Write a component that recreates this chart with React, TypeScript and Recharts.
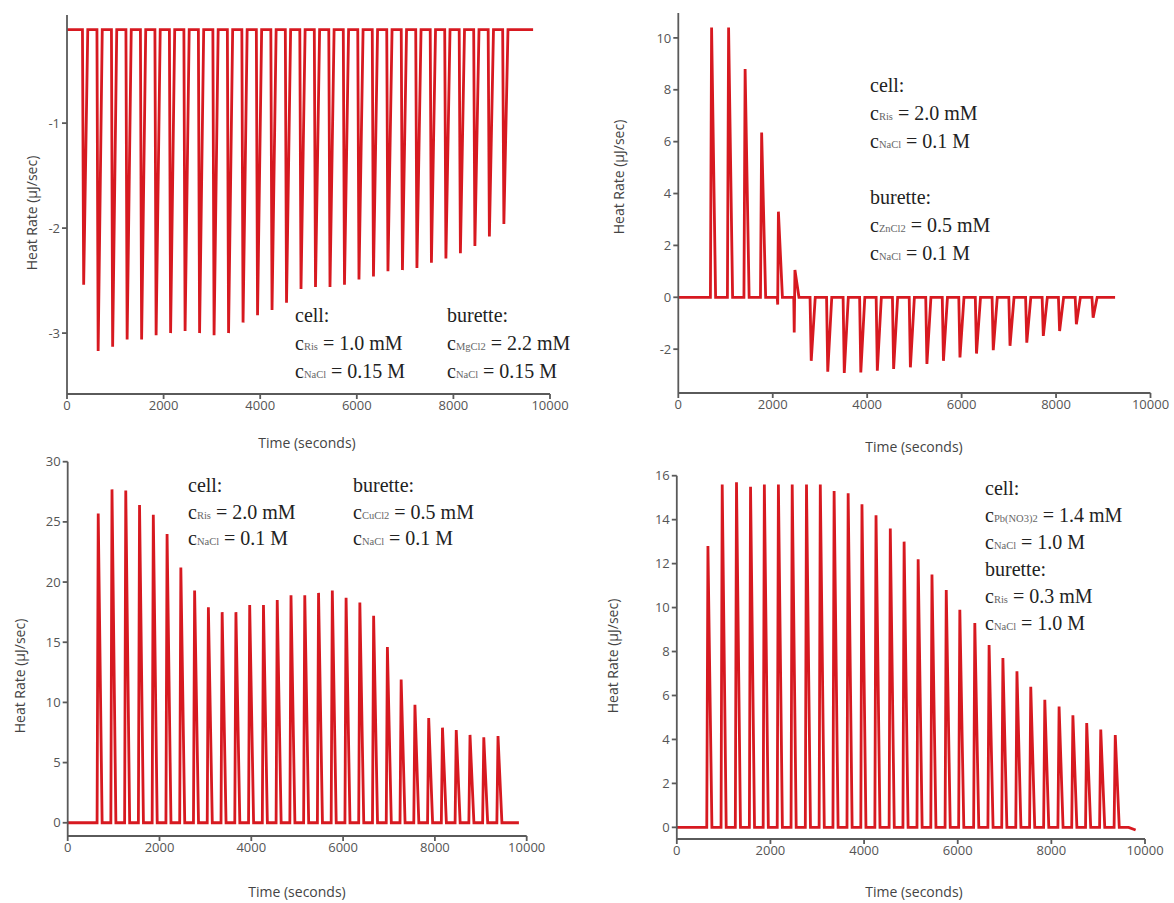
import React from 'react';
import { LineChart, Line, XAxis, YAxis } from 'recharts';

// time axis shared by all four thermograms
const timeTicks = [0, 2000, 4000, 6000, 8000, 10000];

// top-left: Ris in cell, MgCl2 in burette (exothermic, negative peaks)
const mgTimes = [320, 620, 920, 1220, 1520, 1820, 2120, 2420, 2720, 3020, 3320, 3620, 3920, 4220, 4520, 4820, 5120, 5420, 5720, 6020, 6320, 6620, 6920, 7220, 7520, 7820, 8120, 8420, 8720, 9020];
const mgPeaks = [-2.54, -3.17, -3.13, -3.06, -3.06, -3.02, -3.0, -2.98, -3.0, -3.02, -3.0, -2.9, -2.83, -2.78, -2.71, -2.58, -2.56, -2.56, -2.54, -2.49, -2.46, -2.41, -2.4, -2.38, -2.33, -2.29, -2.24, -2.17, -2.08, -1.96];
const mgTicks = [-1, -2, -3];

// top-right: Ris in cell, ZnCl2 in burette
const znTimes = [680, 1040, 1390, 1740, 2095, 2445, 2790, 3140, 3490, 3840, 4190, 4535, 4890, 5240, 5590, 5940, 6290, 6645, 7000, 7355, 7705, 8050, 8405, 8760];
const znPeaks = [10.4, 10.4, 8.8, 6.35, 3.3, 1.05, -2.45, -2.87, -2.92, -2.9, -2.83, -2.76, -2.7, -2.57, -2.45, -2.32, -2.17, -2.04, -1.87, -1.75, -1.49, -1.3, -1.04, -0.79];
const znDips = [0, 0, 0, 0, -0.28, -1.36, 0, 0, 0, 0, 0, 0, 0, 0, 0, 0, 0, 0, 0, 0, 0, 0, 0, 0];
const znTicks = [-2, 0, 2, 4, 6, 8, 10];

// bottom-left: Ris in cell, CuCl2 in burette
const cuTimes = [640, 940, 1240, 1540, 1840, 2140, 2440, 2740, 3040, 3340, 3640, 3940, 4240, 4540, 4840, 5140, 5440, 5740, 6040, 6340, 6640, 6940, 7240, 7540, 7840, 8140, 8440, 8740, 9040, 9350];
const cuPeaks = [25.7, 27.7, 27.6, 26.4, 25.6, 24.0, 21.2, 19.3, 17.9, 17.5, 17.5, 18.1, 18.1, 18.5, 18.9, 18.9, 19.1, 19.3, 18.7, 18.3, 17.2, 14.6, 11.9, 9.8, 8.7, 7.9, 7.7, 7.3, 7.1, 7.2];
const cuTicks = [0, 5, 10, 15, 20, 25, 30];

// bottom-right: Pb(NO3)2 in cell, Ris in burette
const pbTimes = [640, 945, 1250, 1550, 1845, 2145, 2440, 2745, 3040, 3335, 3635, 3930, 4230, 4535, 4830, 5130, 5425, 5730, 6020, 6340, 6645, 6940, 7240, 7535, 7835, 8140, 8435, 8730, 9030, 9340];
const pbPeaks = [12.8, 15.6, 15.7, 15.5, 15.6, 15.6, 15.6, 15.6, 15.6, 15.3, 15.2, 14.7, 14.2, 13.6, 13.0, 12.2, 11.5, 10.8, 9.9, 9.3, 8.3, 7.7, 7.1, 6.4, 5.8, 5.5, 5.1, 4.75, 4.45, 4.2];
const pbTicks = [0, 2, 4, 6, 8, 10, 12, 14, 16];

// annotation lines: [heading] or [sub, rest]
const mgCell = ['cell:', ['Ris', ' = 1.0 mM'], ['NaCl', ' = 0.15 M']];
const mgBurette = ['burette:', ['MgCl2', ' = 2.2 mM'], ['NaCl', ' = 0.15 M']];
const znNotes = ['cell:', ['Ris', ' = 2.0 mM'], ['NaCl', ' = 0.1 M'], '', 'burette:', ['ZnCl2', ' = 0.5 mM'], ['NaCl', ' = 0.1 M']];
const cuCell = ['cell:', ['Ris', ' = 2.0 mM'], ['NaCl', ' = 0.1 M']];
const cuBurette = ['burette:', ['CuCl2', ' = 0.5 mM'], ['NaCl', ' = 0.1 M']];
const pbNotes = ['cell:', ['Pb(NO3)2', ' = 1.4 mM'], ['NaCl', ' = 1.0 M'], 'burette:', ['Ris', ' = 0.3 mM'], ['NaCl', ' = 1.0 M']];

const RED = '#d71920';
const AXIS = '#5a5a5a';
const SANS = "'Open Sans', 'Noto Sans', sans-serif";
const SERIF = "'Liberation Serif', 'Times New Roman', serif";

type Pt = { t: number; v: number };

// baseline -> (optional opposite dip) -> peak -> back to baseline, per injection
const buildTrace = (times: number[], peaks: number[], base: number, end: number, dips: number[] = [], endV = base): Pt[] => {
  const pts: Pt[] = [{ t: 0, v: base }];
  times.forEach((t, i) => {
    pts.push({ t, v: base });
    if (dips[i]) pts.push({ t: t + 10, v: dips[i] });
    pts.push({ t: t + 25, v: peaks[i] });
    pts.push({ t: t + 110, v: base });
  });
  pts.push({ t: end - 150, v: base });
  pts.push({ t: end, v: endV });
  return pts;
};

interface PanelProps {
  left: number;
  top: number;
  width: number;
  height: number;
  margin: { top: number; right: number; bottom: number; left: number };
  yWidth: number;
  domain: [number, number];
  ticks: number[];
  data: Pt[];
}

const Panel: React.FC<PanelProps> = ({ left, top, width, height, margin, yWidth, domain, ticks, data }) => (
  <div style={{ position: 'absolute', left, top, width, height }}>
    <LineChart width={width} height={height} data={data} margin={margin}>
      <XAxis
        type="number"
        dataKey="t"
        domain={[0, 10000]}
        ticks={timeTicks}
        interval={0}
        height={30}
        stroke={AXIS}
        strokeWidth={1.8}
        tickSize={5}
        tick={{ fontSize: 13, fill: '#555', fontFamily: SANS }}
      />
      <YAxis
        type="number"
        domain={domain}
        ticks={ticks}
        interval={0}
        width={yWidth}
        stroke={AXIS}
        strokeWidth={1.8}
        tickSize={5}
        tick={{ fontSize: 13, fill: '#555', fontFamily: SANS }}
      />
      <Line
        type="linear"
        dataKey="v"
        stroke={RED}
        strokeWidth={2.8}
        strokeLinejoin="miter"
        dot={false}
        activeDot={false}
        isAnimationActive={false}
      />
    </LineChart>
  </div>
);

type Note = string | string[];

const Notes: React.FC<{ x: number; y: number; step: number; lines: Note[] }> = ({ x, y, step, lines }) => (
  <g fontFamily={SERIF} fontSize={20} fill="#222">
    {lines.map((ln, i) =>
      typeof ln === 'string' ? (
        <text key={i} x={x} y={y + i * step}>{ln}</text>
      ) : (
        <text key={i} x={x} y={y + i * step}>
          c<tspan fontSize={10.5} fill="#666">{ln[0]}</tspan>{ln[1]}
        </text>
      )
    )}
  </g>
);

const YTitle: React.FC<{ x: number; y: number }> = ({ x, y }) => (
  <text
    x={x}
    y={y}
    transform={`rotate(-90 ${x} ${y})`}
    textAnchor="middle"
    dominantBaseline="central"
    fontFamily={SANS}
    fontSize={14}
    fill="#444"
  >
    Heat Rate (µJ/sec)
  </text>
);

const XTitle: React.FC<{ x: number; y: number }> = ({ x, y }) => (
  <text x={x} y={y} textAnchor="middle" fontFamily={SANS} fontSize={14} fill="#444">
    Time (seconds)
  </text>
);

export default function App() {
  const mgData = buildTrace(mgTimes, mgPeaks, -0.11, 9650);
  const znData = buildTrace(znTimes, znPeaks, 0, 9250, znDips);
  const cuData = buildTrace(cuTimes, cuPeaks, 0, 9830);
  const pbData = buildTrace(pbTimes, pbPeaks, 0, 9800, [], -0.12);

  return (
    <div style={{ position: 'absolute', left: 0, top: 0, width: 1174, height: 903, background: '#fff', overflow: 'hidden' }}>
      <Panel
        left={0} top={0} width={600} height={430}
        margin={{ top: 15, right: 50, bottom: 6, left: 0 }}
        yWidth={67} domain={[-3.58, 0.03]} ticks={mgTicks} data={mgData}
      />
      <Panel
        left={590} top={0} width={584} height={450}
        margin={{ top: 13, right: 23.5, bottom: 27, left: 0 }}
        yWidth={88.3} domain={[-3.69, 10.96]} ticks={znTicks} data={znData}
      />
      <Panel
        left={0} top={440} width={590} height={463}
        margin={{ top: 21.7, right: 63.3, bottom: 37, left: 0 }}
        yWidth={67.7} domain={[-1.1, 30]} ticks={cuTicks} data={cuData}
      />
      <Panel
        left={590} top={440} width={584} height={463}
        margin={{ top: 35.7, right: 29, bottom: 34, left: 0 }}
        yWidth={86.8} domain={[-0.53, 16]} ticks={pbTicks} data={pbData}
      />
      <svg width={1174} height={903} style={{ position: 'absolute', left: 0, top: 0, pointerEvents: 'none' }}>
        <YTitle x={31} y={213} />
        <YTitle x={618} y={177} />
        <YTitle x={19} y={676} />
        <YTitle x={612} y={656} />
        <XTitle x={307} y={448} />
        <XTitle x={914} y={452} />
        <XTitle x={297} y={897} />
        <XTitle x={914} y={897} />
        <Notes x={295} y={322} step={28} lines={mgCell} />
        <Notes x={447} y={322} step={28} lines={mgBurette} />
        <Notes x={870} y={92} step={28} lines={znNotes} />
        <Notes x={188} y={492} step={26.5} lines={cuCell} />
        <Notes x={353} y={492} step={26.5} lines={cuBurette} />
        <Notes x={985} y={495} step={27} lines={pbNotes} />
      </svg>
    </div>
  );
}
